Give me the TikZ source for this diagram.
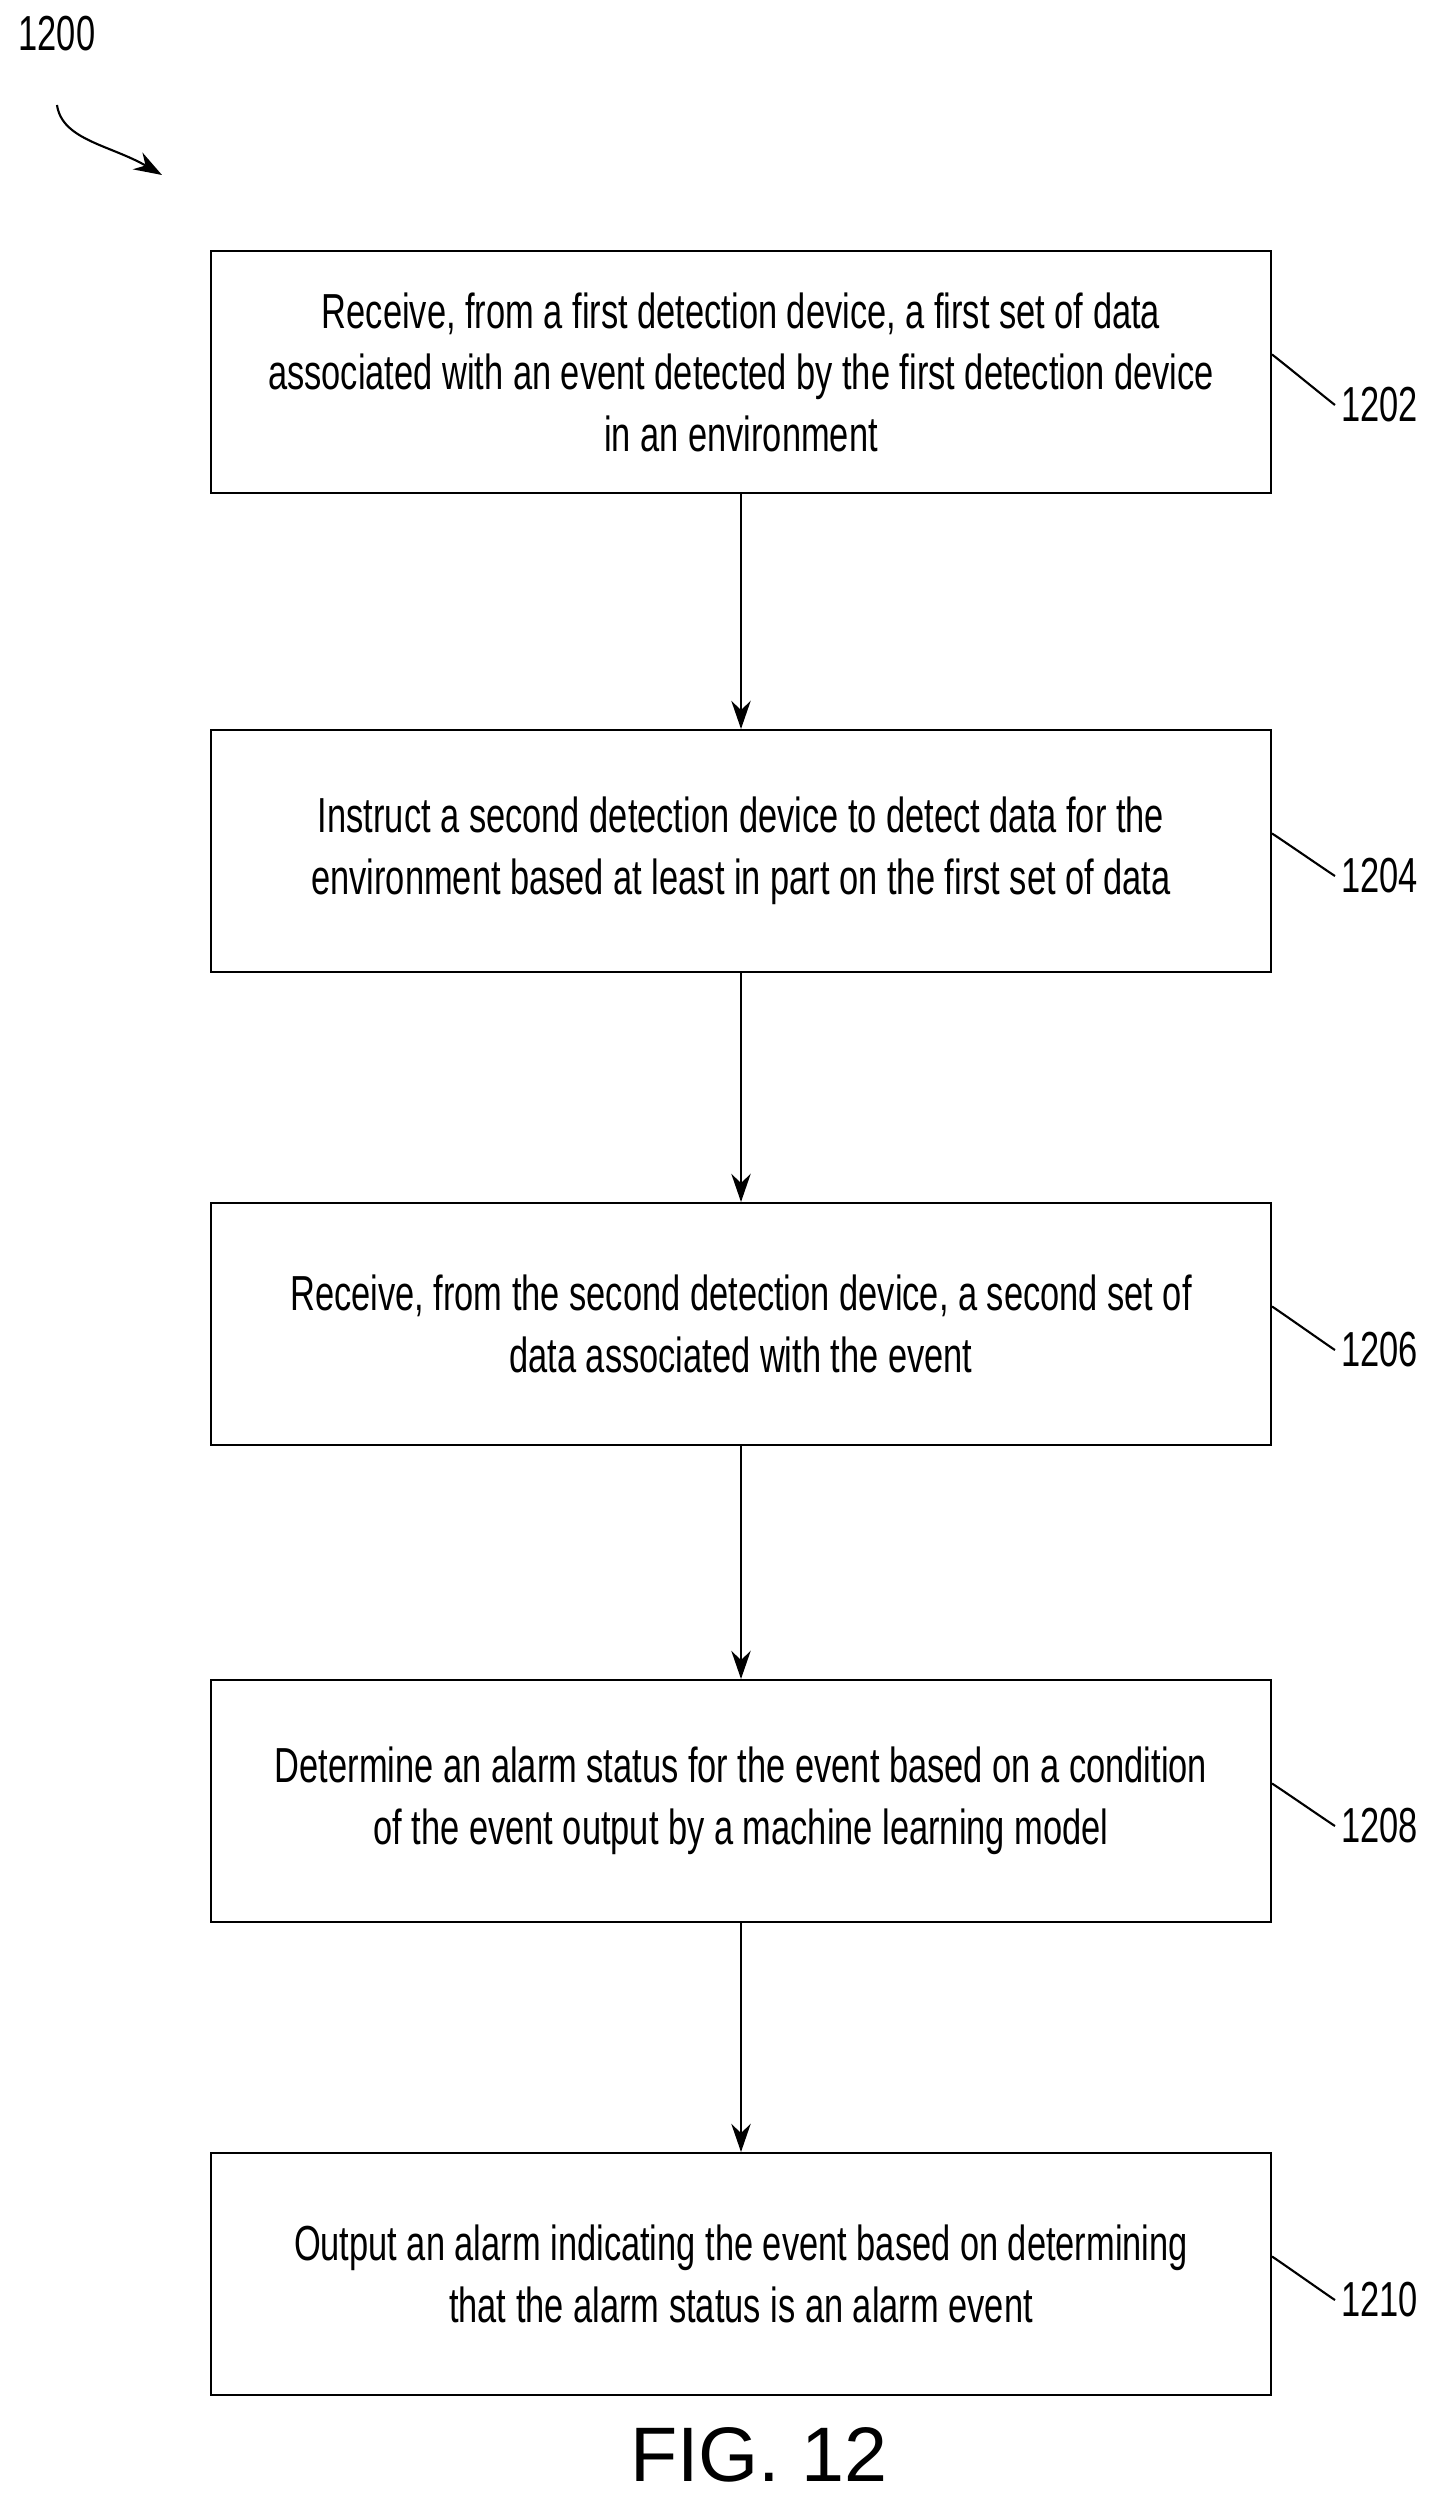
\documentclass[tikz,border=0pt]{standalone}
\usepackage{fontspec}
\setmainfont{Liberation Sans}
\newfontfamily\narrowsf[FakeStretch=0.7]{Liberation Sans}
\usetikzlibrary{positioning,arrows.meta}

\begin{document}
\begin{tikzpicture}[
    x=0.02cm, y=-0.02cm,
    stepbox/.style={rectangle, draw, line width=1.2pt, minimum width=21.2cm, minimum height=4.84cm, align=center, font=\narrowsf\fontsize{28}{35}\selectfont},
    tag/.style={font=\narrowsf\fontsize{28}{30}\selectfont, anchor=west},
    arrow/.style={-{Stealth[length=16pt,width=11pt]}, line width=1.2pt},
    lead/.style={line width=1.2pt},
]
\useasboundingbox (0,0) rectangle (1434,2507);

% Steps
\node[stepbox] (s1) at (741,372) {Receive, from a first detection device, a first set of data\\associated with an event detected by the first detection device\\in an environment};
\node[stepbox] (s2) at (741,851) {Instruct a second detection device to detect data for the\\environment based at least in part on the first set of data};
\node[stepbox] (s3) at (741,1324) {Receive, from the second detection device, a second set of\\data associated with the event};
\node[stepbox] (s4) at (741,1801) {Determine an alarm status for the event based on a condition\\of the event output by a machine learning model};
\node[stepbox] (s5) at (741,2274) {Output an alarm indicating the event based on determining\\that the alarm status is an alarm event};

% Reference numerals
\node[tag] (n1) at (1335,405) {1202};
\node[tag] (n2) at (1335,876) {1204};
\node[tag] (n3) at (1335,1350) {1206};
\node[tag] (n4) at (1335,1826) {1208};
\node[tag] (n5) at (1335,2300) {1210};
\foreach \i in {1,...,5}
  \draw[lead] ([yshift=0.35cm]s\i.east) .. controls ++(0.6,-0.1) and ++(-0.4,0.1) .. (n\i.west);

% Arrows
\draw[arrow] (s1) -- (s2);
\draw[arrow] (s2) -- (s3);
\draw[arrow] (s3) -- (s4);
\draw[arrow] (s4) -- (s5);

% Figure number
\node[font=\narrowsf\fontsize{28}{30}\selectfont] (fig0) at (57,34) {1200};
\coordinate (fig0end) at (162,175);
\draw[arrow] (57,105) .. controls (62,140) and (110,145) .. (fig0end);
\node[font=\fontsize{44}{50}\selectfont] (fig) at (759,2455) {FIG. 12};
\end{tikzpicture}
\end{document}
